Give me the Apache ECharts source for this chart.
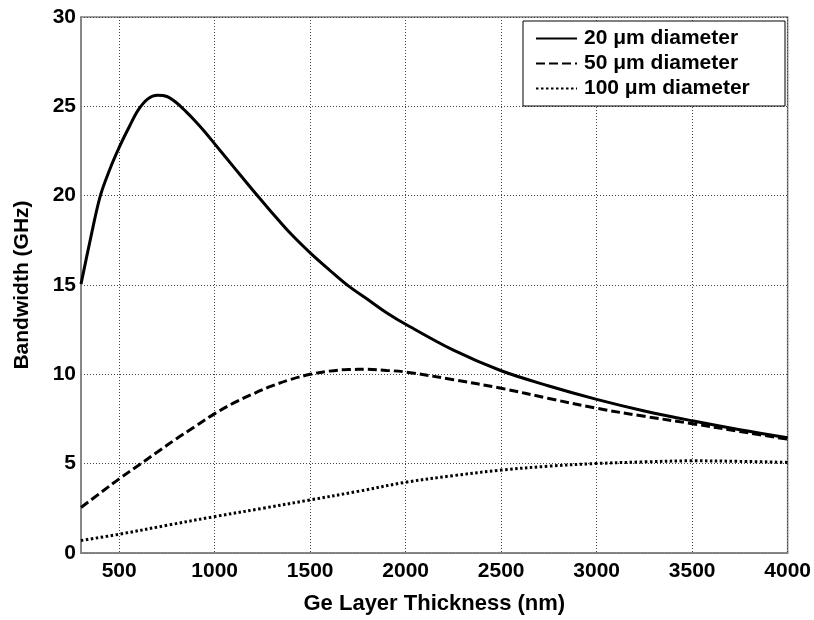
<!DOCTYPE html>
<html>
<head>
<meta charset="utf-8">
<script src="https://cdn.jsdelivr.net/npm/echarts@6/dist/echarts.min.js"></script>
<style>
  html, body { margin: 0; padding: 0; background: #fff; }
  #chart { width: 814px; height: 620px; }
</style>
</head>
<body>
<div id="chart"></div>
<script>
// Ge layer thickness (nm) and bandwidth (GHz) for three mesa diameters
const thick20 = [300, 350, 400, 450, 500, 550, 600, 650, 700, 750, 800, 850, 900, 950, 1000, 1100, 1200, 1300, 1400, 1500, 1600, 1700, 1800, 1900, 2000, 2250, 2500, 2750, 3000, 3250, 3500, 3750, 4000];
const bw20 = [15.05, 17.6, 19.95, 21.45, 22.7, 23.8, 24.8, 25.42, 25.62, 25.55, 25.2, 24.7, 24.15, 23.55, 22.9, 21.6, 20.3, 19.05, 17.85, 16.8, 15.85, 14.95, 14.2, 13.45, 12.8, 11.35, 10.2, 9.35, 8.6, 7.95, 7.4, 6.9, 6.45];

const thick50 = [300, 400, 500, 600, 700, 800, 900, 1000, 1100, 1200, 1300, 1400, 1500, 1600, 1700, 1800, 1900, 2000, 2250, 2500, 2750, 3000, 3250, 3500, 3750, 4000];
const bw50 = [2.55, 3.35, 4.15, 4.9, 5.65, 6.4, 7.1, 7.8, 8.4, 8.9, 9.35, 9.72, 10.0, 10.18, 10.27, 10.28, 10.22, 10.13, 9.7, 9.22, 8.65, 8.1, 7.65, 7.24, 6.8, 6.37];

const thick100 = [300, 500, 750, 1000, 1250, 1500, 1750, 2000, 2250, 2500, 2750, 3000, 3250, 3500, 3750, 4000];
const bw100 = [0.7, 1.05, 1.55, 2.04, 2.5, 2.97, 3.45, 3.96, 4.33, 4.64, 4.86, 5.01, 5.1, 5.16, 5.13, 5.07];

const xTicks = [500, 1000, 1500, 2000, 2500, 3000, 3500, 4000];
const seriesNames = ['20 \u03bcm diameter', '50 \u03bcm diameter', '100 \u03bcm diameter'];

const pairs = (xs, ys) => xs.map((x, i) => [x, ys[i]]);

const font = 'Liberation Sans, Arial, Helvetica, sans-serif';
const gridStyle = { color: '#444', width: 1, type: [1, 2] };
const frameStyle = { color: '#7f7f7f', width: 1.5 };

const chart = echarts.init(document.getElementById('chart'), null, { renderer: 'canvas' });

chart.setOption({
  animation: false,
  backgroundColor: '#ffffff',
  grid: {
    left: 81, right: 25, top: 17, bottom: 64,
    show: true, borderColor: '#7f7f7f', borderWidth: 1.5, backgroundColor: 'transparent'
  },
  legend: {
    left: 523, top: 21,
    orient: 'vertical',
    backgroundColor: '#ffffff',
    borderColor: '#000000', borderWidth: 1,
    padding: [7, 12, 7, 12],
    itemWidth: 41, itemHeight: 14, itemGap: 4,
    itemStyle: { opacity: 0 },
    textStyle: {
      fontFamily: font, fontSize: 21, fontWeight: 'bold', color: '#000',
      lineHeight: 21, width: 189, padding: [0, 0, 0, 2]
    },
    data: seriesNames
  },
  xAxis: {
    type: 'value',
    min: 300, max: 4000,
    name: 'Ge Layer Thickness (nm)',
    nameLocation: 'middle',
    nameGap: 40,
    nameTextStyle: { fontFamily: font, fontSize: 22, fontWeight: 'bold', color: '#000' },
    axisLine: { show: true, lineStyle: frameStyle },
    axisTick: { show: false, customValues: xTicks },
    axisLabel: {
      customValues: xTicks,
      formatter: (v) => String(v),
      margin: 8,
      fontFamily: font, fontSize: 21, fontWeight: 'bold', color: '#000'
    },
    splitLine: { show: true, lineStyle: gridStyle }
  },
  yAxis: {
    type: 'value',
    min: 0, max: 30, interval: 5,
    name: 'Bandwidth (GHz)',
    nameLocation: 'middle',
    nameGap: 48,
    nameTextStyle: { fontFamily: font, fontSize: 21, fontWeight: 'bold', color: '#000' },
    axisLine: { show: true, lineStyle: frameStyle },
    axisTick: { show: false },
    axisLabel: { margin: 5, fontFamily: font, fontSize: 21, fontWeight: 'bold', color: '#000' },
    splitLine: { show: true, lineStyle: gridStyle }
  },
  series: [
    {
      name: seriesNames[0], type: 'line', smooth: 0.35, symbol: 'none',
      data: pairs(thick20, bw20),
      lineStyle: { color: '#000', width: 3 },
      itemStyle: { color: '#000' }
    },
    {
      name: seriesNames[1], type: 'line', smooth: 0.35, symbol: 'none',
      data: pairs(thick50, bw50),
      lineStyle: { color: '#000', width: 3, type: [9, 4] },
      itemStyle: { color: '#000' }
    },
    {
      name: seriesNames[2], type: 'line', smooth: 0.35, symbol: 'none',
      data: pairs(thick100, bw100),
      lineStyle: { color: '#000', width: 3, type: [2.5, 2.5] },
      itemStyle: { color: '#000' }
    }
  ]
});
</script>
</body>
</html>
